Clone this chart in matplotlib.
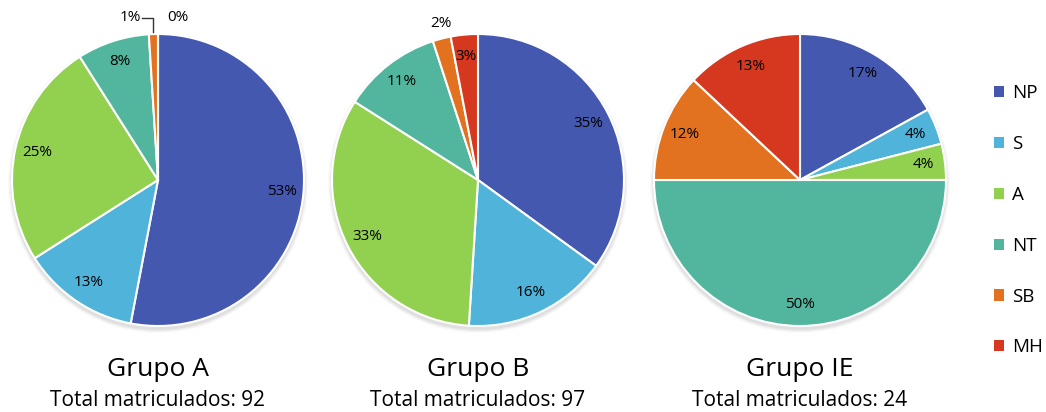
import matplotlib
matplotlib.use("Agg")
import matplotlib.pyplot as plt
from matplotlib.patches import Circle, Patch
import numpy as np

plt.rcParams['font.family'] = ['Open Sans', 'DejaVu Sans']

categories = ['NP', 'S', 'A', 'NT', 'SB', 'MH']
colors = ['#4558B0', '#4FB3DA', '#92D050', '#52B69E', '#E2721F', '#D5381F']

groups = ['Grupo A', 'Grupo B', 'Grupo IE']
totals = [92, 97, 24]
pct_a = [53, 13, 25, 8, 1, 0]
pct_b = [35, 16, 33, 11, 2, 3]
pct_ie = [17, 4, 4, 50, 12, 13]
all_pcts = [pct_a, pct_b, pct_ie]

fig = plt.figure(figsize=(10.46, 4.12), dpi=100)
ax = fig.add_axes([0, 0, 1, 1])

centers = [(158, 232), (478, 232), (800, 232)]
R = 146

for (cx, cy), name, total, pcts in zip(centers, groups, totals, all_pcts):
    # soft shadow under the pie
    for k, a in enumerate([0.10, 0.08, 0.06, 0.04]):
        ax.add_patch(Circle((cx, cy - 3), R + 1 + k, color='#888888', alpha=a,
                            lw=0, zorder=0))
    wedges, _ = ax.pie(pcts, colors=colors, startangle=90, counterclock=False,
                       center=(cx, cy), radius=R,
                       wedgeprops=dict(edgecolor='white', linewidth=1.5))
    for w, p in zip(wedges, pcts):
        if p < 3:
            continue
        mid = np.deg2rad((w.theta1 + w.theta2) / 2)
        tx = cx + 0.85 * R * np.cos(mid)
        ty = cy + 0.85 * R * np.sin(mid)
        ax.text(tx, ty, f'{p}%', ha='center', va='center', fontsize=11, zorder=5)
    ax.text(cx, 43, name, ha='center', va='center', fontsize=19)
    ax.text(cx, 12, f'Total matriculados: {total}', ha='center', va='center',
            fontsize=15)

# small slices labelled outside
ax.text(130, 395, f'{pct_a[4]}%', ha='center', va='center', fontsize=11)
ax.text(178, 395, f'{pct_a[5]}%', ha='center', va='center', fontsize=11)
ax.plot([142, 153, 153], [394, 394, 380], color='#333333', lw=1)
ax.text(441, 389, f'{pct_b[4]}%', ha='center', va='center', fontsize=11)

ax.set_xlim(0, 1046)
ax.set_ylim(0, 412)
ax.set_aspect('equal')
ax.axis('off')

handles = [Patch(facecolor=c, edgecolor='none') for c in colors]
fig.legend(handles, categories, loc='center left', bbox_to_anchor=(0.941, 0.465),
           frameon=False, fontsize=13.5, handlelength=0.55, handleheight=0.55,
           handletextpad=0.45, labelspacing=1.75, borderpad=0)

fig.savefig('out.png', dpi=100)
